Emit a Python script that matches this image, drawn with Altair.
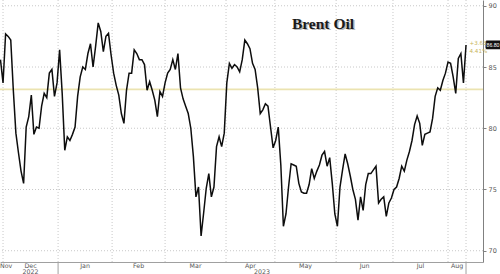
import altair as alt
import pandas as pd

# ---- data ----
day = list(range(1, 183))
price = [
    85.6, 83.7, 87.7, 87.5, 87.2, 83.1, 79.6, 78.0, 76.5, 75.5,
    80.1, 80.95, 82.7, 79.5, 80.1, 80.0, 81.8, 82.85, 82.5, 84.5,
    84.8, 82.6, 83.7, 86.4, 82.85, 78.2, 79.3, 79.0, 79.5, 80.1,
    82.6, 84.2, 85.0, 84.8, 86.1, 86.9, 85.0, 86.7, 88.6, 87.9,
    86.25, 87.5, 87.75, 86.0, 84.5, 83.5, 82.7, 81.2, 80.4, 83.1,
    84.5, 84.5, 86.4, 86.1, 85.6, 85.6, 85.2, 83.1, 83.8, 83.1,
    82.3, 80.95, 83.0, 82.6, 83.7, 84.5, 84.8, 85.6, 84.8, 86.1,
    83.3, 82.4, 81.8, 81.2, 80.0, 77.7, 74.4, 75.2, 71.2, 73.1,
    75.1, 76.3, 74.4, 75.2, 78.5, 79.3, 78.5, 79.6, 83.7, 85.3,
    84.9, 85.2, 85.0, 84.6, 85.6, 87.2, 86.9, 86.5, 85.3, 84.8,
    83.3, 81.2, 81.5, 82.0, 81.8, 80.1, 78.4, 79.0, 80.1, 77.0,
    72.0, 73.0, 75.2, 77.1, 77.0, 76.9, 75.5, 74.8, 74.7, 74.7,
    75.4, 76.7, 75.9, 76.5, 77.0, 77.8, 78.1, 76.9, 77.6, 75.5,
    73.0, 72.0, 75.2, 76.6, 77.9, 77.1, 76.1, 75.0, 74.2, 72.5,
    74.4, 73.3, 75.4, 76.3, 76.3, 76.6, 76.9, 73.9, 74.2, 74.4,
    72.8, 73.9, 74.3, 75.0, 75.2, 75.9, 76.9, 76.5, 77.4, 78.1,
    79.0, 80.3, 81.0, 80.4, 78.6, 79.5, 79.6, 79.7, 80.8, 82.6,
    83.3, 83.1, 83.9, 84.5, 85.4, 85.3, 84.2, 82.85, 85.7, 86.1,
    83.7, 86.8,
]
# month boundaries (trading-day positions) and the last-point marker line
month_starts = [2.0, 23.4, 44.4, 65.0, 88.7, 107.7, 131.5, 153.6, 175.0, 182.0]
month_names = ["Nov", "Dec", "Jan", "Feb", "Mar", "Apr", "May", "Jun", "Jul", "Aug"]
year_names = ["2022", "2023"]
year_bounds = [2.0, 23.4, 182.0]
y_ticks = [70, 75, 80, 85, 90]
ref_level = 83.17
last_label = "86.80"
last_value = 86.80
change_text = "+3.63\n4.41%"
title_text = "Brent Oil"

X_DOMAIN = [0.82, 188.6]
Y_DOMAIN = [69.08, 90.47]

xs = alt.Scale(domain=X_DOMAIN, nice=False, zero=False)
ys = alt.Scale(domain=Y_DOMAIN, nice=False, zero=False)

x_axis = alt.Axis(labels=False, ticks=False, grid=False, domain=True,
                  domainColor="#a0a0a0", title="")
y_axis = alt.Axis(orient="right", values=y_ticks, grid=False, domain=True,
                  domainColor="#808080", tickColor="#808080", tickSize=3,
                  labelFontSize=6.5, labelColor="#555555",
                  labelFont="DejaVu Sans", labelPadding=2, title="")

df = pd.DataFrame({"day": day, "price": price})

# month label positions: midpoints between boundaries (Nov at the left edge)
lab_pos = [X_DOMAIN[0]] + [
    (month_starts[k] + month_starts[k + 1]) / 2 for k in range(len(month_starts) - 1)
]
labels_df = pd.DataFrame({"x": lab_pos, "name": month_names})
years_df = pd.DataFrame({
    "x": [(year_bounds[0] + year_bounds[1]) / 2, (year_bounds[1] + year_bounds[2]) / 2],
    "name": year_names,
})

base_x = dict(scale=xs, axis=x_axis)
base_y = dict(scale=ys, axis=y_axis)

hgrid = alt.Chart(pd.DataFrame({"v": y_ticks})).mark_rule(
    color="#c8c8c8", strokeDash=[1, 2], strokeWidth=1
).encode(y=alt.Y("v:Q", **base_y))

vgrid = alt.Chart(pd.DataFrame({"x": month_starts})).mark_rule(
    color="#c8c8c8", strokeDash=[1, 2], strokeWidth=1
).encode(x=alt.X("x:Q", **base_x))

refline = alt.Chart(pd.DataFrame({"v": [ref_level]})).mark_rule(
    color="#ebe3b0", strokeWidth=1.6
).encode(y=alt.Y("v:Q", **base_y))

line = alt.Chart(df).mark_line(color="#0d0d0d", strokeWidth=1.5).encode(
    x=alt.X("day:Q", **base_x),
    y=alt.Y("price:Q", **base_y),
)

box_df = pd.DataFrame({"v": [last_value], "label": [last_label]})
box = alt.Chart(box_df).transform_calculate(
    hi="datum.v + 0.36", lo="datum.v - 0.36"
).mark_rect(color="#111111", cornerRadius=1.5).encode(
    x=alt.value(485.5), x2=alt.value(504),
    y=alt.Y("hi:Q", **base_y), y2="lo:Q",
)
box_text = alt.Chart(box_df).mark_text(
    color="white", fontSize=5.2, font="Liberation Sans", align="left", baseline="middle"
).encode(x=alt.value(486.5), y=alt.Y("v:Q", **base_y), text="label:N")

chg = alt.Chart(pd.DataFrame({"t": [change_text]})).mark_text(
    color="#c8b560", fontSize=5.6, font="DejaVu Sans", align="left", baseline="top",
    lineBreak="\n", lineHeight=8,
).encode(x=alt.value(469.5), y=alt.value(41), text="t:N")

month_text = alt.layer(
    alt.Chart(labels_df.iloc[:1]).mark_text(
        color="#555555", fontSize=6.3, font="DejaVu Sans", baseline="middle", align="left"
    ).encode(x=alt.X("x:Q", **base_x), y=alt.value(266), text="name:N"),
    alt.Chart(labels_df.iloc[1:]).mark_text(
        color="#555555", fontSize=6.3, font="DejaVu Sans", baseline="middle", align="center"
    ).encode(x=alt.X("x:Q", **base_x), y=alt.value(266), text="name:N"),
)

year_text = alt.Chart(years_df).mark_text(
    color="#555555", fontSize=6.3, font="DejaVu Sans", align="center", baseline="middle"
).encode(x=alt.X("x:Q", **base_x), y=alt.value(272), text="name:N")

seps = alt.Chart(pd.DataFrame({"x": year_bounds[1:]})).mark_rule(
    color="#a0a0a0", strokeWidth=1
).encode(x=alt.X("x:Q", **base_x), y=alt.value(262), y2=alt.value(274))

title_shadow = alt.Chart(pd.DataFrame({"t": [title_text]})).mark_text(
    color="#9a9a9a", fontSize=15.5, font="Liberation Serif", fontWeight="bold",
    align="center", baseline="middle", opacity=0.7,
).encode(x=alt.value(324.5), y=alt.value(25), text="t:N")

title = alt.Chart(pd.DataFrame({"t": [title_text]})).mark_text(
    color="#1a1a1a", fontSize=15.5, font="Liberation Serif", fontWeight="bold",
    align="center", baseline="middle",
).encode(x=alt.value(323), y=alt.value(23.5), text="t:N")

chart = alt.layer(
    hgrid, vgrid, refline, line, box, box_text, chg,
    month_text, year_text, seps, title_shadow, title,
).properties(
    width=483, height=262,
    padding={"left": 0, "top": 0, "right": 17, "bottom": 12},
    autosize=alt.AutoSizeParams(type="none"),
    background="white",
).configure_view(stroke=None)

chart.save("out.html", embed_options={"renderer": "svg", "actions": False})
